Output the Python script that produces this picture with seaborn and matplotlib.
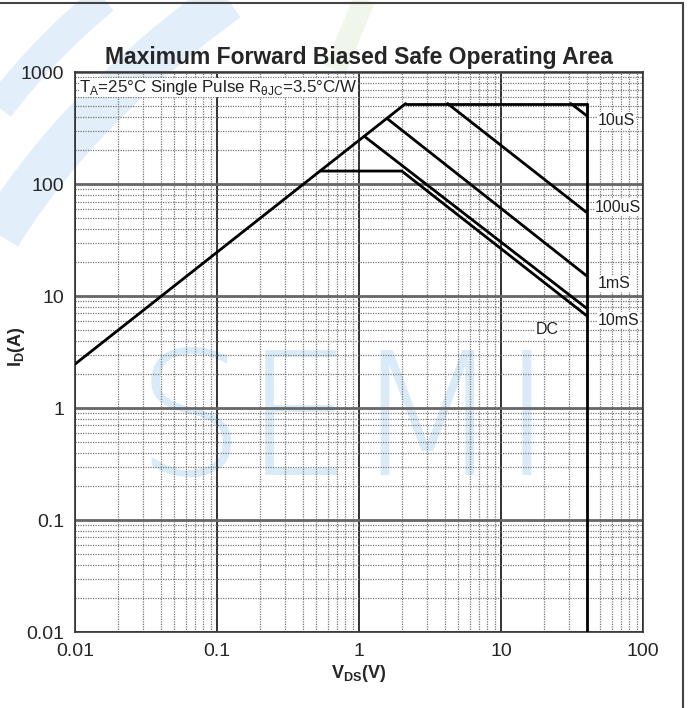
import matplotlib
matplotlib.use("Agg")
import matplotlib.pyplot as plt
import seaborn as sns
import numpy as np
from matplotlib.lines import Line2D
from matplotlib.ticker import LogLocator, FixedLocator, NullFormatter

# ---- data ----
rds_v = [0.01, 2.13]
rds_i = [2.47, 525]
top_v = [2.13, 40]
top_i = [525, 525]
vmax_v = [40, 40]
vmax_i = [525, 0.01]
us10_v = [31, 40]
us10_i = [525, 410]
us100_v = [4.2, 40]
us100_i = [525, 56]
ms1_v = [1.6, 40]
ms1_i = [380, 15.2]
ms10_v = [1.1, 40]
ms10_i = [265, 7.8]
dc_v = [0.53, 2.0, 40]
dc_i = [131, 131, 6.7]

x_ticks = [0.01, 0.1, 1, 10, 100]
x_ticklabels = ["0.01", "0.1", "1", "10", "100"]
y_ticks = [0.01, 0.1, 1, 10, 100, 1000]
y_ticklabels = ["0.01", "0.1", "1", "10", "100", "1000"]

labels = ["10uS", "100uS", "1mS", "10mS", "DC"]
label_pos = [(48, 373), (46, 62), (48, 13), (48, 6.1), (21, 5.0)]

sns.set_style("white")
plt.rcParams['font.family'] = ['Liberation Sans', 'DejaVu Sans']
plt.rcParams['mathtext.fontset'] = 'custom'
plt.rcParams['mathtext.rm'] = 'Liberation Sans'
plt.rcParams['mathtext.bf'] = 'Liberation Sans:bold'

W, H = 690, 708
fig = plt.figure(figsize=(6.9, 7.08), dpi=100)


def band(points, width, color='#e2eef9', alpha=1.0):
    p = np.array(points, dtype=float)
    t = np.linspace(0, 1, 60)[:, None]
    c = (1 - t) ** 2 * p[0] + 2 * (1 - t) * t * p[1] + t ** 2 * p[2]
    fig.add_artist(Line2D(c[:, 0] / W, 1 - c[:, 1] / H, transform=fig.transFigure,
                          color=color, lw=width * 0.72, alpha=alpha, zorder=-5,
                          solid_capstyle='butt'))


# watermark stripes (top-left)
band([(-10, 120), (40, 50), (115, -10)], 30)
band([(-10, 250), (70, 110), (240, -10)], 45)
band([(335, 70), (352, 30), (368, -10)], 22, color='#f0f7ea')

ax = fig.add_axes([0.1087, 0.1073, 0.8233, 0.7907])
ax.patch.set_alpha(0)

# watermark text
ax.text(0.475, 0.365, "SEMI", transform=ax.transAxes, ha='center', va='center',
        fontsize=124, color='#d9ebf8', fontweight='light', zorder=0.5,
        family='DejaVu Sans')

ax.set_xscale('log')
ax.set_yscale('log')
ax.set_xlim(0.01, 100)
ax.set_ylim(0.01, 1000)

# grids
ax.xaxis.set_minor_locator(LogLocator(base=10, subs=np.arange(2, 10)))
ax.yaxis.set_minor_locator(LogLocator(base=10, subs=np.arange(2, 10)))
ax.xaxis.set_minor_formatter(NullFormatter())
ax.yaxis.set_minor_formatter(NullFormatter())
ax.grid(which='major', axis='x', color='#222222', lw=1.3, ls='-', zorder=1)
ax.grid(which='major', axis='y', color='#666666', lw=2.0, ls='-', zorder=1)
ax.grid(which='minor', color='#777777', lw=0.9, ls=(0, (1, 1)), zorder=1)
ax.set_axisbelow(True)

segments = [(rds_v, rds_i), (top_v, top_i), (vmax_v, vmax_i), (us10_v, us10_i),
            (us100_v, us100_i), (ms1_v, ms1_i), (ms10_v, ms10_i), (dc_v, dc_i)]
for v, i in segments:
    sns.lineplot(x=v, y=i, ax=ax, color='black', lw=2.0, estimator=None,
                 sort=False, zorder=3)

for lab, (x, y) in zip(labels, label_pos):
    ax.text(x, y, lab, fontsize=11.5, ha='left' if lab != 'DC' else 'center',
            va='center', color='#222222', zorder=4,
            bbox=dict(facecolor='white', edgecolor='none', pad=0.5))

ax.text(0.0107, 730, r'T$_\mathregular{A}$=25°C Single Pulse R$_\mathregular{θJC}$=3.5°C/W',
        fontsize=12.2, ha='left', va='center', color='#222222', zorder=4,
        bbox=dict(facecolor='white', edgecolor='none', pad=0.3))

ax.xaxis.set_major_locator(FixedLocator(x_ticks))
ax.yaxis.set_major_locator(FixedLocator(y_ticks))
ax.set_xticklabels(x_ticklabels, fontsize=14)
ax.set_yticklabels(y_ticklabels, fontsize=14)
ax.tick_params(axis='x', which='both', length=0, pad=8)
ax.tick_params(axis='y', which='both', length=0, pad=8)

for s in ax.spines.values():
    s.set_color('#333333')
    s.set_linewidth(1.2)

ax.set_title('Maximum Forward Biased Safe Operating Area', fontsize=16.5,
             fontweight='bold', pad=6)
ax.set_xlabel(r'$\mathbf{V_{DS}}$(V)', fontsize=13, fontweight='bold', labelpad=2)
ax.set_ylabel(r'$\mathbf{I_{D}}$(A)', fontsize=13, fontweight='bold')
ax.yaxis.set_label_coords(-0.084, 0.51)

# figure frame (top and right)
fig.add_artist(Line2D([0, 0.99], [0.996, 0.996], transform=fig.transFigure, color='#444444', lw=1.5))
fig.add_artist(Line2D([0.99, 0.99], [0, 0.996], transform=fig.transFigure, color='#444444', lw=1.5))

fig.savefig('out.png', dpi=100)
